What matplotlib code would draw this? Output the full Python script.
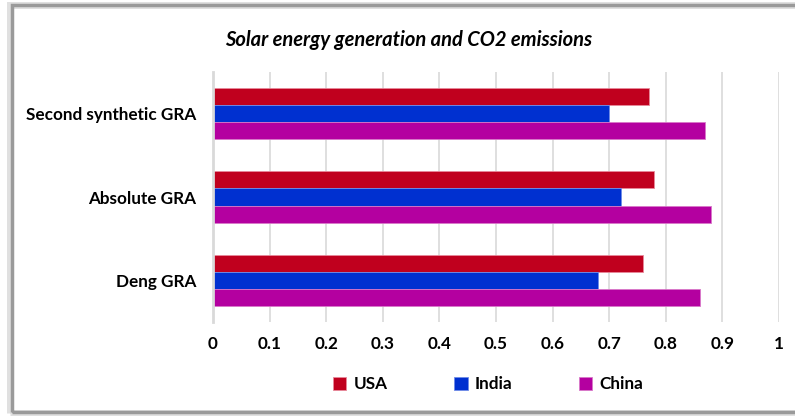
import matplotlib
matplotlib.use("Agg")
import matplotlib.pyplot as plt
from matplotlib.patches import Rectangle
import numpy as np

categories = ["Deng GRA", "Absolute GRA", "Second synthetic GRA"]
usa = [0.76, 0.78, 0.77]
india = [0.68, 0.72, 0.70]
china = [0.86, 0.88, 0.87]
series_names = ["USA", "India", "China"]
colors = ["#c0001e", "#0030d0", "#b400a0"]
edge_colors = ["#e8899a", "#6f8ce8", "#d878c8"]
xticks = [0, 0.1, 0.2, 0.3, 0.4, 0.5, 0.6, 0.7, 0.8, 0.9, 1]
xtick_labels = ["0", "0.1", "0.2", "0.3", "0.4", "0.5", "0.6", "0.7", "0.8", "0.9", "1"]

plt.rcParams['font.family'] = ['Lato', 'DejaVu Sans']

fig = plt.figure(figsize=(7.95, 4.16), dpi=100)
ax = fig.add_axes([213/795, 1-322/416, (779-213)/795, (322-72)/416])

y = np.arange(len(categories))
h = 0.205
vals = [usa, india, china]
offsets = [h, 0, -h]
handles = []
for v, off, c, ec, name in zip(vals, offsets, colors, edge_colors, series_names):
    b = ax.barh(y + off, v, height=h, color=c, edgecolor=ec, linewidth=0.6, label=name, zorder=3)
    handles.append(b)

ax.set_xlim(0, 1)
ax.set_ylim(-0.5, 2.5)
ax.set_yticks(y)
ax.set_yticklabels(categories, fontsize=12.3, fontweight='bold')
ax.set_xticks(xticks)
ax.set_xticklabels(xtick_labels, fontsize=12.3, fontweight='bold')
ax.tick_params(axis='y', length=0, pad=12)
ax.tick_params(axis='x', length=0, pad=10)
ax.grid(axis='x', color='#d9d9d9', linewidth=1.2, zorder=0)
ax.set_axisbelow(True)
for s in ['top', 'right', 'bottom']:
    ax.spines[s].set_visible(False)
ax.spines['left'].set_color('#d9d9d9')
ax.spines['left'].set_linewidth(2)
ax.spines['left'].set_zorder(4)

fig.text(409/795, 1-40/416, "Solar energy generation and CO2 emissions",
         fontsize=14.5, fontweight='bold', fontstyle='italic', ha='center', va='center')

leg = fig.legend(handles=handles, labels=series_names, loc='center',
                 bbox_to_anchor=(488/795, 1-384/416), ncol=3, frameon=False,
                 prop={'size': 12.3, 'weight': 'bold'}, handlelength=0.8, handleheight=0.8,
                 handletextpad=0.4, columnspacing=3.9)

# outer frame with shadow
fig.patches.append(Rectangle((10/795, 3/416), 800/795, 408/416, transform=fig.transFigure,
                             fill=False, edgecolor='#e0e0e0', linewidth=5, zorder=0))
fig.patches.append(Rectangle((12/795, 4/416), 800/795, 407/416, transform=fig.transFigure,
                             fill=False, edgecolor='#9a9a9a', linewidth=2.5, zorder=1))

fig.savefig("out.png", dpi=100)
